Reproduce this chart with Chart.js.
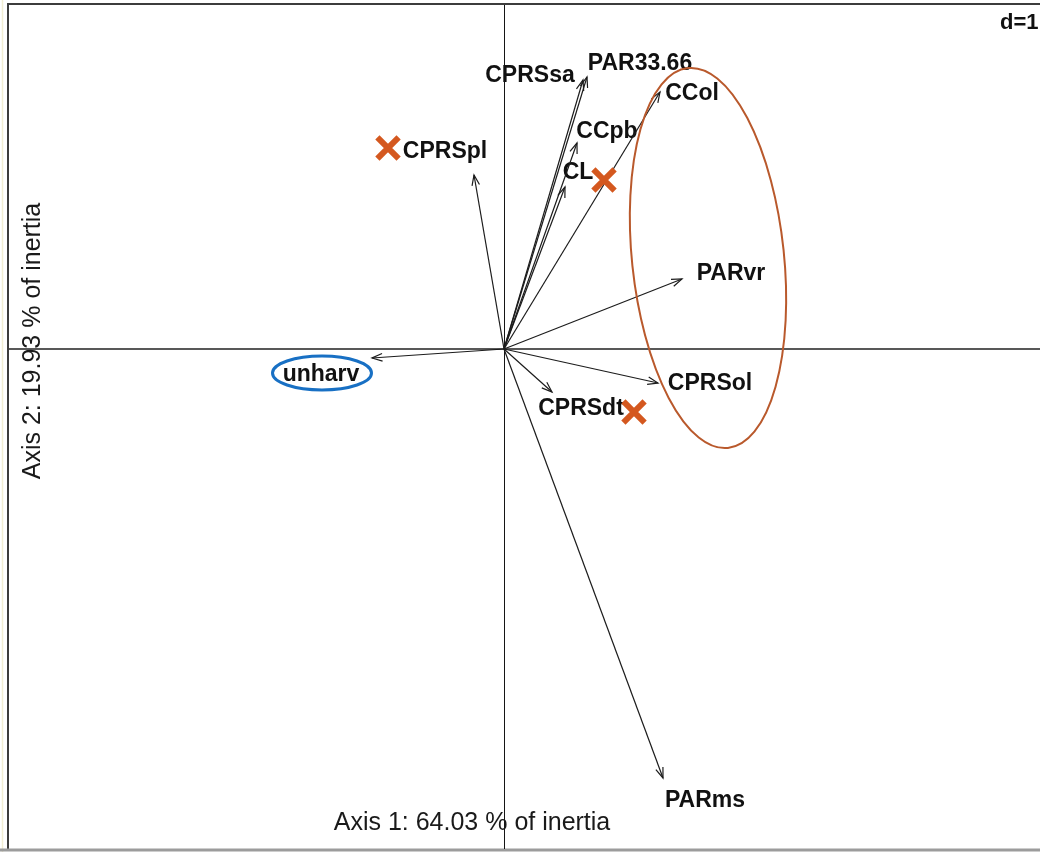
<!DOCTYPE html>
<html>
<head>
<meta charset="utf-8">
<title>Correlation circle - arrows</title>
<script src="https://cdn.jsdelivr.net/npm/chart.js@4"></script>
<style>
  html, body { margin: 0; padding: 0; background: #ffffff; }
  canvas { display: block; }
</style>
</head>
<body>
<canvas id="chart" width="1040" height="852"></canvas>
<script>
// Variable scores on the first two axes
const variables = ['unharv', 'CPRSpl', 'CPRSsa', 'PAR33.66', 'CCpb', 'CL', 'CCol', 'PARvr', 'CPRSol', 'CPRSdt', 'PARms'];
const axis1 = [-1.32, -0.30, 0.79, 0.83, 0.73, 0.61, 1.56, 1.78, 1.54, 0.48, 1.59];
const axis2 = [-0.09, 1.74, 2.69, 2.72, 2.06, 1.62, 2.57, 0.70, -0.34, -0.43, -4.29];

// Where each variable name is written
const labelAxis1 = [-1.83, -0.59, 0.26, 1.36, 1.03, 0.74, 1.88, 2.27, 2.06, 0.77, 2.01];
const labelAxis2 = [-0.26, 1.97, 2.73, 2.85, 2.17, 1.76, 2.55, 0.75, -0.35, -0.60, -4.52];

// Highlighted points (crosses)
const crossAxis1 = [-1.16, 1.00, 1.30];
const crossAxis2 = [2.01, 1.69, -0.63];

const axisTitle1 = 'Axis 1: 64.03 % of inertia';
const axisTitle2 = 'Axis 2: 19.93 % of inertia';
const gridLabel = 'd=1';

const LABEL_FONT = 'bold 23px "Liberation Sans", Arial, sans-serif';
const TITLE_FONT = '25px "Liberation Sans", Arial, sans-serif';

const shaftDatasets = variables.map((name, i) => ({
  label: name,
  type: 'line',
  data: [{ x: 0, y: 0 }, { x: axis1[i], y: axis2[i] }],
  showLine: true,
  borderColor: '#1c1c1c',
  borderWidth: 1.2,
  pointRadius: 0,
  fill: false,
  tension: 0,
  order: 2
}));

const crossDataset = {
  label: 'marked',
  type: 'scatter',
  data: crossAxis1.map((v, i) => ({ x: v, y: crossAxis2[i] })),
  pointStyle: 'crossRot',
  pointRadius: 15,
  pointHoverRadius: 15,
  borderColor: '#d4581f',
  backgroundColor: '#d4581f',
  pointBorderWidth: 6,
  borderWidth: 6,
  order: 1
};

function drawEllipse(ctx, xs, ys, cx, cy, rx, ry, rotDeg, color, width) {
  const px = xs.getPixelForValue(cx), py = ys.getPixelForValue(cy);
  const prx = Math.abs(xs.getPixelForValue(cx + rx) - px);
  const pry = Math.abs(ys.getPixelForValue(cy + ry) - py);
  ctx.save();
  ctx.strokeStyle = color;
  ctx.lineWidth = width;
  ctx.beginPath();
  ctx.ellipse(px, py, prx, pry, rotDeg * Math.PI / 180, 0, Math.PI * 2);
  ctx.stroke();
  ctx.restore();
}

const biplotPlugin = {
  id: 'biplot',
  beforeDatasetsDraw(chart) {
    const { ctx, scales: { x, y }, width, height } = chart;
    const x0 = Math.round(x.getPixelForValue(0)) + 0.5;
    const y0 = Math.round(y.getPixelForValue(0));
    ctx.save();

    // panel frame
    ctx.strokeStyle = '#f1edd2';
    ctx.lineWidth = 1.5;
    ctx.beginPath(); ctx.moveTo(2.5, 0); ctx.lineTo(2.5, height); ctx.stroke();
    ctx.strokeStyle = '#3c3c3c';
    ctx.lineWidth = 2;
    ctx.beginPath();
    ctx.moveTo(width + 2, 4); ctx.lineTo(8, 4); ctx.lineTo(8, height - 3);
    ctx.stroke();
    ctx.strokeStyle = '#9c9c9c';
    ctx.lineWidth = 3;
    ctx.beginPath(); ctx.moveTo(0, height - 2); ctx.lineTo(width, height - 2); ctx.stroke();

    // axes through the origin
    ctx.strokeStyle = '#585858';
    ctx.lineWidth = 2;
    ctx.beginPath(); ctx.moveTo(9, y0); ctx.lineTo(width, y0); ctx.stroke();
    ctx.strokeStyle = '#151515';
    ctx.lineWidth = 1;
    ctx.beginPath(); ctx.moveTo(x0, 5); ctx.lineTo(x0, height - 3); ctx.stroke();

    // variable names
    ctx.font = LABEL_FONT;
    ctx.fillStyle = '#111111';
    ctx.textAlign = 'center';
    ctx.textBaseline = 'middle';
    variables.forEach((name, i) => {
      ctx.fillText(name, x.getPixelForValue(labelAxis1[i]), y.getPixelForValue(labelAxis2[i]));
    });
    ctx.restore();
  },
  afterDatasetsDraw(chart) {
    const { ctx, scales: { x, y } } = chart;
    const x0 = x.getPixelForValue(0), y0 = y.getPixelForValue(0);
    ctx.save();

    // open arrowheads at each tip
    ctx.strokeStyle = '#1c1c1c';
    ctx.lineWidth = 1.2;
    const headLen = 11, headAng = 20 * Math.PI / 180;
    variables.forEach((name, i) => {
      const tx = x.getPixelForValue(axis1[i]), ty = y.getPixelForValue(axis2[i]);
      const a = Math.atan2(ty - y0, tx - x0);
      ctx.beginPath();
      ctx.moveTo(tx - headLen * Math.cos(a - headAng), ty - headLen * Math.sin(a - headAng));
      ctx.lineTo(tx, ty);
      ctx.lineTo(tx - headLen * Math.cos(a + headAng), ty - headLen * Math.sin(a + headAng));
      ctx.stroke();
    });

    // grouping outlines
    drawEllipse(ctx, x, y, 2.04, 0.91, 0.76, 1.91, -6, '#b9592c', 2);
    drawEllipse(ctx, x, y, -1.82, -0.24, 0.495, 0.17, 0, '#1870c4', 3);

    // axis titles and grid size
    ctx.fillStyle = '#1a1a1a';
    ctx.font = TITLE_FONT;
    ctx.textAlign = 'center';
    ctx.textBaseline = 'middle';
    ctx.fillText(axisTitle1, 472, 823);
    ctx.save();
    ctx.translate(33, 341);
    ctx.rotate(-Math.PI / 2);
    ctx.fillText(axisTitle2, 0, 0);
    ctx.restore();

    ctx.font = 'bold 22px "Liberation Sans", Arial, sans-serif';
    ctx.textAlign = 'left';
    ctx.fillStyle = '#111111';
    ctx.fillText(gridLabel, 1000, 23);
    ctx.restore();
  }
};

new Chart(document.getElementById('chart'), {
  type: 'scatter',
  data: { datasets: [...shaftDatasets, crossDataset] },
  options: {
    responsive: false,
    animation: false,
    events: [],
    layout: { padding: 0, autoPadding: false },
    plugins: {
      legend: { display: false },
      tooltip: { enabled: false },
      title: { display: false }
    },
    scales: {
      x: { type: 'linear', min: -5.04, max: 5.36, display: false },
      y: { type: 'linear', min: -5.03, max: 3.49, display: false }
    }
  },
  plugins: [biplotPlugin]
});
</script>
</body>
</html>
